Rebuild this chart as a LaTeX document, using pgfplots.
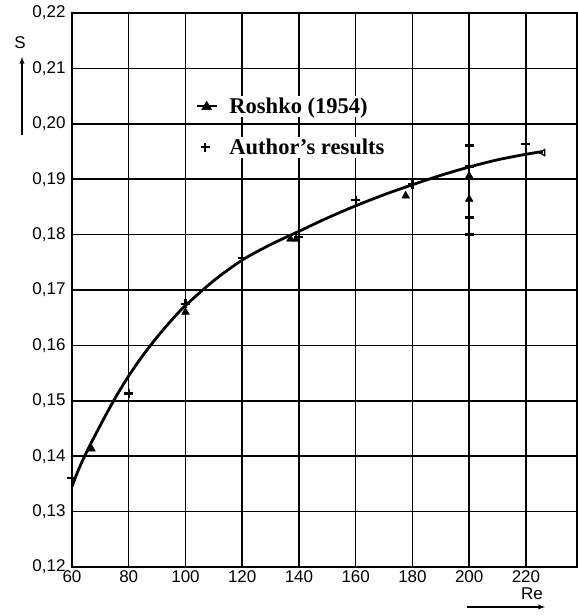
\documentclass[border=0pt]{standalone}
\usepackage{fontspec}
\setmainfont{Liberation Serif}
\setsansfont{Liberation Sans}
\usepackage{pgfplots}
\pgfplotsset{compat=1.18}
\begin{document}
\begin{tikzpicture}
\begin{axis}[
  scale only axis, width=505pt, height=554pt,
  xmin=60, xmax=238, ymin=0.12, ymax=0.22,
  xtick={60,80,100,120,140,160,180,200,220},
  ytick={0.12,0.13,0.14,0.15,0.16,0.17,0.18,0.19,0.20,0.21,0.22},
  grid=major,
  grid style={black, line width=1.5pt},
  axis line style={black, line width=1.8pt},
  major tick length=0pt,
  ticklabel style={font=\sffamily\fontsize{17}{17}\selectfont},
  /pgf/number format/assume math mode=true,
  yticklabel style={/pgf/number format/.cd, fixed, fixed zerofill, precision=2, use comma},
  xticklabel style={/pgf/number format/.cd, fixed, precision=0},
  scaled y ticks=false,
  yticklabel shift=3pt, xticklabel shift=0pt,
  clip=false,
  legend style={at={(rel axis cs:0.239,0.855)}, anchor=north west, draw=none, fill=none,
     font=\bfseries\fontsize{22.5}{24}\selectfont, row sep=20pt,
     nodes={fill=white, inner sep=2pt},
     /tikz/every odd column/.append style={column sep=10pt}},
  legend cell align=left,
]
% fitted curve (hand-drawn in the original)
\addplot[black, line width=2.8pt, smooth, forget plot] coordinates {
 (60,0.1345) (62,0.1372) (65,0.1406) (70,0.1456) (75,0.1503) (80,0.1545)
 (85,0.1582) (90,0.1615) (95,0.1645) (100,0.1672) (110,0.1717) (120,0.1754)
 (130,0.1782) (140,0.1806) (150,0.1830) (160,0.1852) (170,0.1872) (180,0.1890)
 (190,0.1907) (200,0.1922) (210,0.1935) (220,0.1945) (226,0.1950)};
% Roshko (1954)
\addplot[only marks, mark=triangle*, mark size=4.5pt, black,
  legend image code/.code={\draw[black, line width=1.6pt] (0pt,0pt) -- (20pt,0pt);
     \fill[black] (5pt,-3.5pt) -- (15pt,-3.5pt) -- (10pt,5pt) -- cycle;}]
 coordinates {(66.9,0.1413) (100,0.1660) (137,0.1792) (139,0.1792) (177.6,0.1870)
  (200,0.1906) (200,0.1864)};
\addlegendentry{Roshko (1954)}
% Author's results
\addplot[only marks, mark=+, mark size=4.5pt, black, line width=2.2pt]
 coordinates {(60,0.1360) (80,0.1513) (100,0.1675) (120,0.1758) (140,0.1796)
  (160,0.1862) (180,0.1891) (200,0.1961) (200,0.1923) (200,0.1831) (200,0.1800)
  (220,0.1963)};
\addlegendentry{Author's results}
% open marker at end of curve
\addplot[only marks, mark=triangle, mark size=3.5pt, black, line width=1.4pt, mark options={rotate=90}, forget plot]
 coordinates {(226,0.1948)};
% axis name labels with arrows
\node[font=\sffamily\fontsize{17}{17}\selectfont, anchor=center] at ([xshift=-52pt,yshift=-30pt]rel axis cs:0,1) {S};
\draw[-latex, line width=1.3pt] ([xshift=-50pt,yshift=-122pt]rel axis cs:0,1) -- ([xshift=-50pt,yshift=-44pt]rel axis cs:0,1);
\node[font=\sffamily\fontsize{17}{17}\selectfont, anchor=center] at ([xshift=-45pt,yshift=-27pt]rel axis cs:1,0) {Re};
\draw[-latex, line width=1.3pt] ([xshift=-110pt,yshift=-40pt]rel axis cs:1,0) -- ([xshift=-32pt,yshift=-40pt]rel axis cs:1,0);
\end{axis}
\path (current axis.south west) ++(-72pt,-49pt) coordinate (bbA);
\path (current axis.north east) ++(1pt,13pt) coordinate (bbB);
\useasboundingbox (bbA) rectangle (bbB);
\end{tikzpicture}
\end{document}
